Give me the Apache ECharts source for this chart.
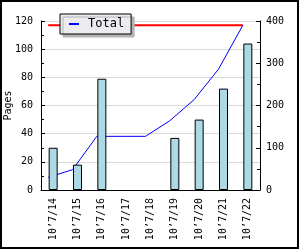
<!DOCTYPE html>
<html><head><meta charset="utf-8">
<script src="https://cdn.jsdelivr.net/npm/echarts@6/dist/echarts.min.js"></script>
<style>html,body{margin:0;padding:0;background:#fff}#c{width:300px;height:250px}</style>
</head><body><div id="c"></div>
<script>
var categories = ["10’7/14","10’7/15","10’7/16","10’7/17","10’7/18","10’7/19","10’7/20","10’7/21","10’7/22"];
var pages = [30, 18, 79, 0, 0, 37, 50, 72, 104];
var total = [30, 48, 127, 127, 127, 164, 214, 286, 390];
var totalMax = [390, 390, 390, 390, 390, 390, 390, 390, 390];
var leftTicks = [0, 120, 20];
var rightTicks = [0, 400, 100];

var font = 'DejaVu Sans Mono';
var chart = echarts.init(document.getElementById('c'), null, {renderer: 'canvas'});
chart.setOption({
  animation: false,
  backgroundColor: '#ffffff',
  textStyle: {fontFamily: font},
  graphic: [{type: 'rect', shape: {x: 1, y: 1, width: 297, height: 247}, style: {fill: 'none', stroke: '#000', lineWidth: 2}, z: 100}],
  legend: {
    data: ['Total'], left: 60, top: 14, padding: [4, 7, 4, 9],
    backgroundColor: '#ecebf0', borderColor: '#000', borderWidth: 1, borderRadius: 0,
    shadowColor: '#b4b4b4', shadowOffsetX: 3, shadowOffsetY: 3, shadowBlur: 0,
    itemWidth: 10, itemHeight: 2, itemGap: 8, icon: 'rect',
    textStyle: {fontFamily: font, fontSize: 12, color: '#000', padding: [0, 0, 0, 4]}
  },
  grid: [
    {left: 41, right: 40, top: 21, bottom: 60, outerBoundsMode: 'none', containLabel: false},
    {left: 36, right: 45, top: 21, bottom: 60, outerBoundsMode: 'none', containLabel: false}
  ],
  xAxis: [
    {type: 'category', gridIndex: 0, data: categories, boundaryGap: true,
     axisLine: {lineStyle: {color: '#000', width: 1}},
     axisTick: {inside: true, length: 5, lineStyle: {color: '#000'}},
     axisLabel: {rotate: 90, margin: 8, color: '#000', fontFamily: font, fontSize: 10},
     splitLine: {show: false}},
    {type: 'category', gridIndex: 1, data: categories, boundaryGap: true, show: false}
  ],
  yAxis: [
    {type: 'value', gridIndex: 0, min: leftTicks[0], max: leftTicks[1], interval: leftTicks[2],
     name: 'Pages', nameLocation: 'middle', nameGap: 28, nameRotate: 90, nameMoveOverlap: false,
     nameTextStyle: {fontFamily: font, fontSize: 10, color: '#000'},
     axisLine: {show: true, lineStyle: {color: '#000', width: 1}},
     axisTick: {show: true, inside: true, length: 4, lineStyle: {color: '#000'}},
     minorTick: {show: true, splitNumber: 2, length: 3, lineStyle: {color: '#000'}},
     axisLabel: {margin: 8, color: '#000', fontFamily: font, fontSize: 10},
     splitLine: {show: true, lineStyle: {color: '#d9d9d9', width: 1}}},
    {type: 'value', gridIndex: 0, position: 'right', min: rightTicks[0], max: rightTicks[1], interval: rightTicks[2],
     axisLine: {show: true, lineStyle: {color: '#000', width: 1}},
     axisTick: {show: true, inside: true, length: 4, lineStyle: {color: '#000'}},
     minorTick: {show: true, splitNumber: 2, length: 3, lineStyle: {color: '#000'}},
     axisLabel: {margin: 6, color: '#000', fontFamily: font, fontSize: 10},
     splitLine: {show: false}},
    {type: 'value', gridIndex: 1, min: rightTicks[0], max: rightTicks[1], show: false, splitLine: {show: false}}
  ],
  series: [
    {name: 'Max', type: 'line', xAxisIndex: 1, yAxisIndex: 2, data: totalMax, symbol: 'none',
     lineStyle: {color: '#ff0000', width: 2}, itemStyle: {color: '#ff0000'}, z: 2, silent: true},
    {name: 'Total', type: 'line', xAxisIndex: 1, yAxisIndex: 2, data: total, symbol: 'none',
     lineStyle: {color: '#0000ff', width: 1}, itemStyle: {color: '#0000ff'}, z: 2},
    {name: 'Pages', type: 'bar', xAxisIndex: 0, yAxisIndex: 0,
     data: pages.map(function (v) { return v === 0 ? null : v; }), barWidth: 9,
     itemStyle: {color: '#add8e6', borderColor: '#000', borderWidth: 1}, z: 3}
  ]
});
</script></body></html>
